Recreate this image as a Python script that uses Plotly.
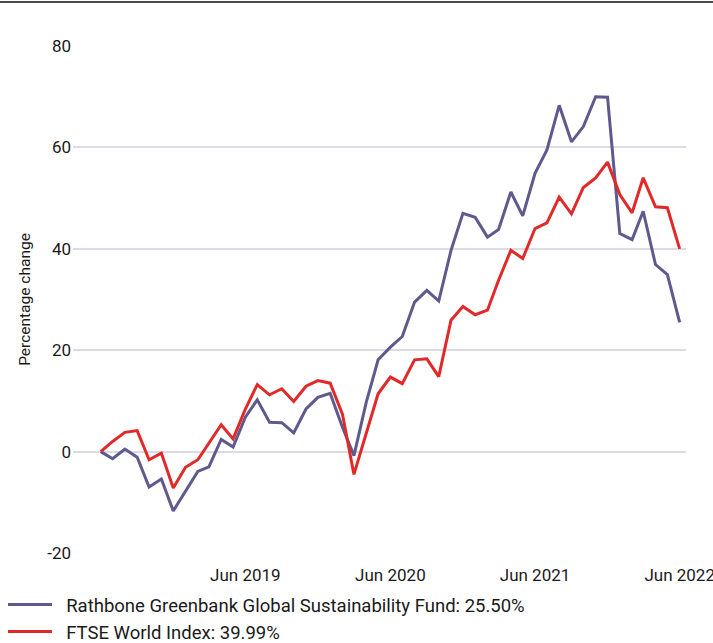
import pandas as pd
import plotly.graph_objects as go

dates = pd.date_range("2018-06-01", "2022-06-01", freq="MS")

fund_name = "Rathbone Greenbank Global Sustainability Fund: 25.50%"
index_name = "FTSE World Index: 39.99%"

fund = [0, -1.4, 0.5, -1.1, -7.0, -5.4, -11.7, -7.7, -3.9, -3.0, 2.4, 0.9,
        6.8, 10.2, 5.8, 5.7, 3.7, 8.4, 10.7, 11.5, 4.8, -0.8, 9.7, 18.1,
        20.6, 22.7, 29.5, 31.8, 29.7, 39.7, 47.0, 46.2, 42.3, 43.8, 51.2, 46.5,
        54.9, 59.5, 68.3, 61.1, 64.1, 70.0, 69.9, 43.0, 41.8, 47.4, 36.9, 34.9,
        25.5]

ftse = [0, 2.0, 3.8, 4.15, -1.6, -0.3, -7.2, -3.1, -1.6, 1.8, 5.3, 2.5,
        8.4, 13.2, 11.2, 12.4, 9.9, 12.9, 14.0, 13.5, 7.4, -4.5, 3.8, 11.4,
        14.7, 13.4, 18.1, 18.3, 14.8, 25.9, 28.6, 27.0, 27.9, 33.8, 39.7, 38.1,
        44.0, 45.1, 50.2, 46.9, 52.1, 54.0, 57.1, 50.7, 47.1, 54.0, 48.3, 48.1,
        39.99]

x_tickvals = ["2019-06-01", "2020-06-01", "2021-06-01", "2022-06-01"]
x_ticktext = ["Jun 2019", "Jun 2020", "Jun 2021", "Jun 2022"]
y_tickvals = [-20, 0, 20, 40, 60, 80]
y_ticktext = ["-20", "0", "20", "40", "60", "80"]

FONT = "Roboto, sans-serif"
W, H = 713, 643
L, R, T, B = 73, 27, 46, 90
PW, PH = W - L - R, H - T - B
PAD = "\u00a0\u00a0"

fig = go.Figure()
fig.add_trace(go.Scatter(x=dates, y=fund, mode="lines", name=PAD + fund_name,
                         line=dict(color="#5e5a8d", width=3)))
fig.add_trace(go.Scatter(x=dates, y=ftse, mode="lines", name=PAD + index_name,
                         line=dict(color="#e2292a", width=3)))

fig.update_layout(
    width=W, height=H,
    margin=dict(l=L, r=R, t=T, b=B, autoexpand=False),
    paper_bgcolor="white", plot_bgcolor="white",
    font=dict(family=FONT, size=17, color="#1a1a1a"),
    showlegend=True,
    legend=dict(orientation="v", x=(3 - L) / PW, xanchor="left",
                y=(H - B - 586) / PH, yanchor="top",
                font=dict(size=18.5, color="#1a1a1a"), tracegroupgap=0,
                itemwidth=44, bgcolor="rgba(0,0,0,0)"),
    xaxis=dict(type="date", range=["2018-03-23", "2022-06-17"], automargin=False,
               tickvals=x_tickvals, ticktext=x_ticktext,
               showgrid=False, zeroline=False, showline=False,
               ticks="outside", ticklen=7, tickcolor="rgba(0,0,0,0)",
               ticklabeloverflow="allow",
               tickfont=dict(size=17)),
    yaxis=dict(range=[-20, 80], tickvals=y_tickvals, ticktext=y_ticktext,
               automargin=False,
               showgrid=True, gridcolor="#dcdbe5", gridwidth=1.5,
               zeroline=False, showline=False,
               ticks="", ticklabelstandoff=1,
               tickfont=dict(size=17),
               title=dict(text="Percentage change", font=dict(size=15.5), standoff=12)),
    shapes=[dict(type="line", xref="paper", yref="paper",
                 x0=-L / PW, x1=(W - L) / PW, y0=(H - B - 2) / PH, y1=(H - B - 2) / PH,
                 line=dict(color="#4a4a4a", width=2))],
)

fig.write_html("out.html", config={"displayModeBar": False},
               post_script="document.body.style.margin='0';document.body.style.padding='0';")
